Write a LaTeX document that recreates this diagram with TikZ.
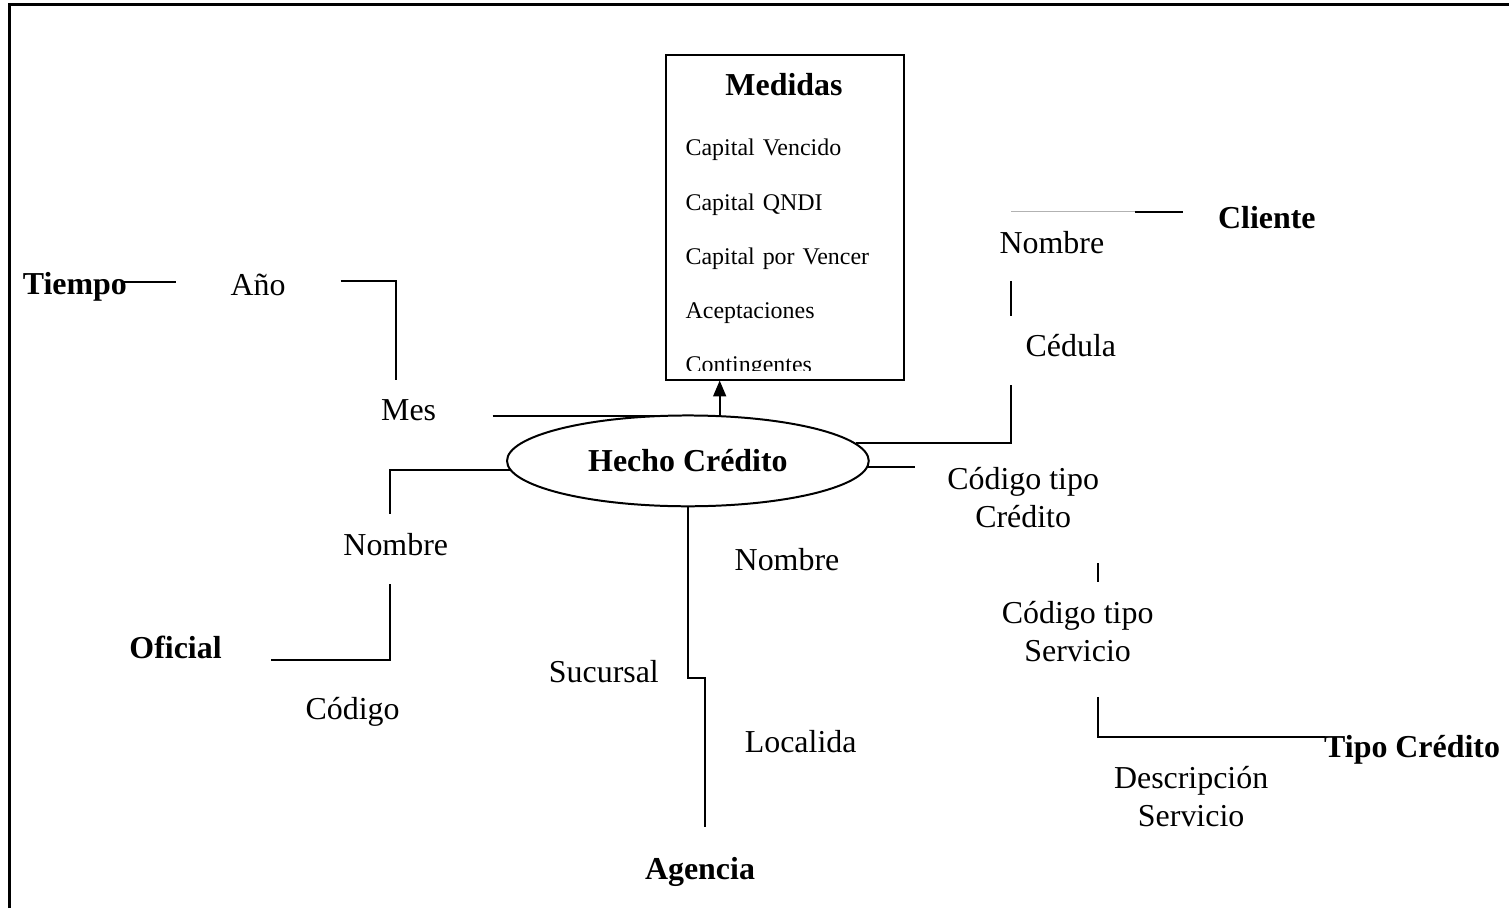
\documentclass[tikz,border=0pt]{standalone}
\usepackage{fontspec}
\setmainfont{Liberation Serif}
\usetikzlibrary{positioning}
\usetikzlibrary{calc,arrows.meta}
\usetikzlibrary{shapes.geometric}

\tikzset{
  attr/.style={font=\fontsize{12}{14.3}\selectfont, inner sep=0pt, align=center},
  dimension/.style={attr, font=\fontsize{12}{14.3}\selectfont\bfseries},
  measure/.style={font=\fontsize{9}{11}\selectfont, inner sep=0pt, text width=2.60cm, align=left, text height=1.5ex, text depth=.25ex},
  link/.style={line width=0.75pt},
}

\begin{document}
\begin{tikzpicture}[on grid]
    \useasboundingbox (-9.09,-5.91) rectangle (10.85,6.09);

    %Frame
    \draw[line width=1pt] (-8.96,-5.91) -- (-8.96,6.03) -- (10.85,6.03);

    %Vertices
    \node[ellipse, draw, link, minimum width=4.78cm, minimum height=1.20cm, inner sep=0pt, font=\fontsize{12}{14.3}\selectfont\bfseries] (Hecho) at (0,0) {Hecho Cr\'edito};

    \node[draw, link, minimum width=3.15cm, minimum height=4.29cm, inner sep=0pt, above right = +3.22 cm and +1.28 cm of Hecho] (MedBox) {};

    \node[dimension, above right = +4.97 cm and +1.27 cm of Hecho] (Medidas) {Medidas};

    \node[measure, above right = +4.14 cm and +1.27 cm of Hecho] (CapVencido) {Capital Vencido};
    \node[measure, above right = +3.41 cm and +1.27 cm of Hecho] (CapQNDI) {Capital QNDI};
    \node[measure, above right = +2.70 cm and +1.27 cm of Hecho] (CapPorVencer) {Capital por Vencer};
    \node[measure, above right = +1.98 cm and +1.27 cm of Hecho] (Aceptaciones) {Aceptaciones};
    \begin{scope}
        \clip (MedBox.north west) rectangle ([yshift=0.13cm]MedBox.south east);
        \node[measure, above right = +1.27 cm and +1.27 cm of Hecho] (Contingentes) {Contingentes};
    \end{scope}

    %FOR THE LINES
    \coordinate[above right = +0.59 cm and +0.42 cm of Hecho] (ArrowFoot);

    \coordinate[above right = +2.37 cm and -7.47 cm of Hecho] (TiempoA);
    \coordinate[above right = +2.37 cm and -6.77 cm of Hecho] (TiempoB);
    \coordinate[above right = +2.38 cm and -4.59 cm of Hecho] (AnioA);
    \coordinate[above right = +2.38 cm and -3.86 cm of Hecho] (AnioB);
    \coordinate[above right = +1.07 cm and -3.86 cm of Hecho] (AnioC);
    \coordinate[above right = +0.59 cm and -2.58 cm of Hecho] (MesA);
    \coordinate[above right = +0.59 cm and -0.28 cm of Hecho] (MesB);

    \coordinate[above right = -0.70 cm and -3.94 cm of Hecho] (OfiB);
    \coordinate[above right = -1.63 cm and -3.94 cm of Hecho] (OfiC);
    \coordinate[above right = -2.63 cm and -3.94 cm of Hecho] (OfiD);
    \coordinate[above right = -2.63 cm and -5.51 cm of Hecho] (OfiE);

    \coordinate[above right = +3.29 cm and +4.27 cm of Hecho] (CliA);
    \coordinate[above right = +3.29 cm and +5.91 cm of Hecho] (CliB);
    \coordinate[above right = +3.29 cm and +6.54 cm of Hecho] (CliC);
    \coordinate[above right = +2.38 cm and +4.27 cm of Hecho] (CliD);
    \coordinate[above right = +1.92 cm and +4.27 cm of Hecho] (CliE);
    \coordinate[above right = +1.00 cm and +4.27 cm of Hecho] (CliF);

    \coordinate[above right = -0.09 cm and +3.00 cm of Hecho] (TipoA);
    \coordinate[above right = -1.35 cm and +5.42 cm of Hecho] (TipoB);
    \coordinate[above right = -1.60 cm and +5.42 cm of Hecho] (TipoC);
    \coordinate[above right = -3.12 cm and +5.42 cm of Hecho] (TipoD);
    \coordinate[above right = -3.65 cm and +5.42 cm of Hecho] (TipoE);
    \coordinate[above right = -3.65 cm and +8.42 cm of Hecho] (TipoF);

    \coordinate[above right = -2.87 cm and +0.22 cm of Hecho] (AgeB);
    \coordinate[above right = -4.84 cm and +0.22 cm of Hecho] (AgeC);

    %Diagram
    \draw[link, -{Triangle[length=0.21cm,width=0.17cm]}] (ArrowFoot) -- (ArrowFoot |- MedBox.south);

    \draw[link] (TiempoA) -- (TiempoB);
    \draw[link] (AnioA) -- (AnioB) -- (AnioC);
    \draw[link] (MesA) -- (MesB);

    \draw[link] (Hecho.183) -- (OfiB |- Hecho.183) -- (OfiB);
    \draw[link] (OfiC) -- (OfiD) -- (OfiE);

    \draw[gray!60, line width=0.4pt] (CliA) -- (CliB);
    \draw[link] (CliB) -- (CliC);
    \draw[link] (CliD) -- (CliE);
    \draw[link] (CliF) -- (CliF |- Hecho.6) -- (Hecho.6);

    \draw[link] (Hecho.358) -- (Hecho.358 -| TipoA);
    \draw[link] (TipoB) -- (TipoC);
    \draw[link] (TipoD) -- (TipoE) -- (TipoF);

    \draw[link] (Hecho.south) -- (Hecho.south |- AgeB) -- (AgeB) -- (AgeC);

    %-------------------------------------------
    %Labels

    \node[dimension, above right = +2.30 cm and -8.10 cm of Hecho] (Tiempo) {Tiempo};
    \node[attr, above right = +2.33 cm and -5.68 cm of Hecho] (Anio) {A\~no};
    \node[attr, above right = +0.67 cm and -3.69 cm of Hecho] (Mes) {Mes};

    \node[dimension, above right = -2.46 cm and -6.77 cm of Hecho] (Oficial) {Oficial};
    \node[attr, above right = -1.11 cm and -3.86 cm of Hecho] (OfiNombre) {Nombre};
    \node[attr, above right = -3.32 cm and -4.43 cm of Hecho] (OfiCodigo) {C\'odigo};

    \node[dimension, above right = +3.21 cm and +7.65 cm of Hecho] (Cliente) {Cliente};
    \node[attr, above right = +2.89 cm and +4.81 cm of Hecho] (CliNombre) {Nombre};
    \node[attr, above right = +1.52 cm and +5.06 cm of Hecho] (CliCedula) {C\'edula};

    \node[attr, above right = -0.48 cm and +4.43 cm of Hecho] (CodTipoCred) {C\'odigo tipo\\Cr\'edito};
    \node[attr, above right = -2.25 cm and +5.15 cm of Hecho] (CodTipoServ) {C\'odigo tipo\\Servicio};
    \node[dimension, above right = -3.82 cm and +9.57 cm of Hecho] (TipoCredito) {Tipo Cr\'edito};
    \node[attr, above right = -4.43 cm and +6.65 cm of Hecho] (DescServ) {Descripci\'on\\Servicio};

    \node[attr, above right = -1.30 cm and +1.31 cm of Hecho] (AgeNombre) {Nombre};
    \node[attr, above right = -2.79 cm and -1.11 cm of Hecho] (Sucursal) {Sucursal};
    \node[attr, above right = -3.71 cm and +1.49 cm of Hecho] (Localida) {Localida};
    \node[dimension, above right = -5.43 cm and +0.16 cm of Hecho] (Agencia) {Agencia};

\end{tikzpicture}
\end{document}
